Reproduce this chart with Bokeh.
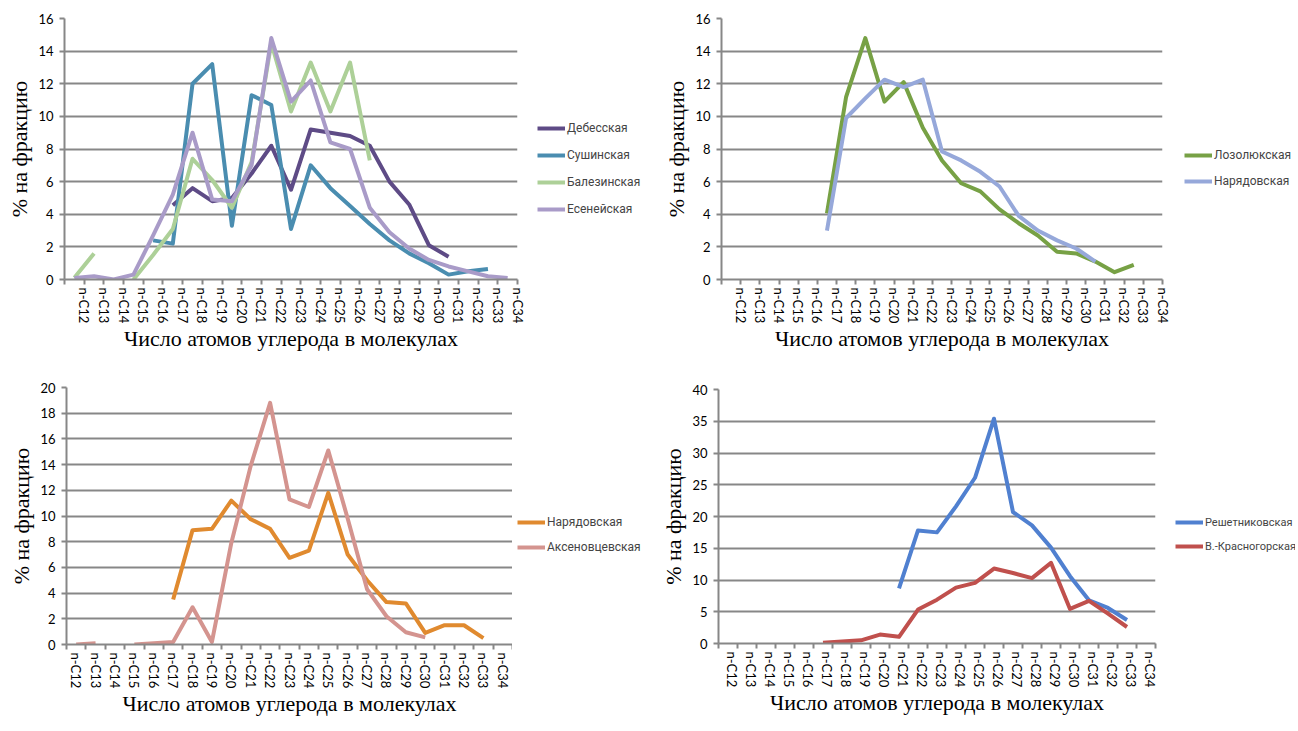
import numpy as np
from bokeh.plotting import figure
from bokeh.layouts import row, column
from bokeh.models import Range1d, FixedTicker, Legend, LegendItem
from bokeh.embed import file_html
from bokeh.resources import INLINE

nan = np.nan

categories = ["n-C12", "n-C13", "n-C14", "n-C15", "n-C16", "n-C17", "n-C18", "n-C19",
              "n-C20", "n-C21", "n-C22", "n-C23", "n-C24", "n-C25", "n-C26", "n-C27",
              "n-C28", "n-C29", "n-C30", "n-C31", "n-C32", "n-C33", "n-C34"]

# Panel 1
debesskaya = [nan, nan, nan, nan, nan, 4.55, 5.6, 4.8, 5.0, 6.5, 8.2, 5.5, 9.2, 9.0, 8.8,
              8.2, 6.0, 4.6, 2.1, 1.4, nan, nan, nan]
sushinskaya = [nan, nan, nan, nan, 2.4, 2.2, 12.0, 13.2, 3.3, 11.3, 10.7, 3.1, 7.0, 5.6, 4.5,
               3.4, 2.4, 1.6, 1.0, 0.3, 0.5, 0.65, nan]
balezinskaya = [0.1, 1.6, nan, 0.0, 1.5, 3.1, 7.4, 6.1, 4.4, 7.2, 14.5, 10.3, 13.3, 10.3, 13.3,
                7.3, nan, nan, nan, nan, nan, nan, nan]
eseneyskaya = [0.1, 0.2, 0.0, 0.3, 2.7, 5.2, 9.0, 4.9, 4.8, 7.0, 14.8, 10.9, 12.2, 8.4, 8.0,
               4.4, 2.9, 1.9, 1.2, 0.8, 0.5, 0.2, 0.1]

# Panel 2
lozolyukskaya = [nan, nan, nan, nan, nan, 4.05, 11.2, 14.8, 10.9, 12.1, 9.3, 7.3, 5.9, 5.4, 4.3,
                 3.45, 2.7, 1.7, 1.6, 1.1, 0.45, 0.9, nan]
naryadovskaya_a = [nan, nan, nan, nan, nan, 3.0, 9.9, 11.1, 12.25, 11.8, 12.25, 7.85, 7.3, 6.6, 5.7,
                   3.9, 3.0, 2.4, 1.9, 1.1, nan, nan, nan]

# Panel 3
naryadovskaya_b = [nan, nan, nan, nan, nan, 3.5, 8.9, 9.0, 11.2, 9.75, 9.0, 6.75, 7.3, 11.8, 7.0,
                   5.0, 3.3, 3.2, 0.9, 1.5, 1.5, 0.5, nan]
aksenovtsevskaya = [0.0, 0.1, nan, 0.0, 0.1, 0.2, 2.9, 0.2, 7.9, 13.9, 18.8, 11.3, 10.7, 15.1, 9.8,
                    4.3, 2.2, 0.95, 0.55, nan, nan, nan, nan]

# Panel 4
reshetnikovskaya = [nan, nan, nan, nan, nan, nan, nan, nan, nan, 8.7, 17.8, 17.5, 21.6, 26.1, 35.4,
                    20.7, 18.6, 15.1, 10.6, 6.8, 5.6, 3.7, nan]
krasnogorskaya = [nan, nan, nan, nan, nan, 0.1, 0.3, 0.5, 1.4, 1.05, 5.35, 6.9, 8.8, 9.55, 11.8,
                  11.1, 10.3, 12.7, 5.45, 6.7, 4.7, 2.6, nan]

X_TITLE = "Число атомов углерода в молекулах"
Y_TITLE = "% на фракцию"
GRID = "#878787"
SANS = "Roboto"
NUM = "Lato"
SERIF = "Liberation Serif"
LINE_W = 4


def make_panel(series, names, colors, ymax, ystep, bl, frame_w, br, legend_width, height,
               bt, bb, label_shift, legend_xy, legend_spacing, title_standoff, legend_font):
    n = len(categories)
    p = figure(width=bl + frame_w + br, height=height, x_range=Range1d(0, n),
               y_range=Range1d(0, ymax), output_backend="svg", toolbar_location=None,
               min_border_left=bl, min_border_right=br, min_border_top=bt, min_border_bottom=bb)
    p.outline_line_color = None
    p.background_fill_color = "white"
    p.border_fill_color = "white"

    xs = np.arange(n) + 0.5
    for vals, col in zip(series, colors):
        p.line(xs, np.array(vals, dtype=float), line_color=col, line_width=LINE_W,
               line_join="round")

    major = [i + label_shift for i in range(n)]
    xt = FixedTicker(ticks=major, minor_ticks=list(range(n + 1)))
    xa = p.xaxis[0]
    xa.ticker = xt
    xa.major_label_overrides = {m: c for m, c in zip(major, categories)}
    xa.major_label_orientation = "vertical"
    xa.major_tick_out = 0
    xa.major_tick_in = 0
    xa.minor_tick_out = 5
    xa.minor_tick_in = 0
    xa.minor_tick_line_color = GRID
    xa.minor_tick_line_width = 2
    xa.major_label_standoff = 3
    xa.major_label_text_font = NUM
    xa.major_label_text_font_size = "13px"
    xa.major_label_text_color = "black"
    xa.axis_line_color = GRID
    xa.axis_line_width = 2
    xa.axis_label = X_TITLE
    xa.axis_label_text_font = SERIF
    xa.axis_label_text_font_size = "22px"
    xa.axis_label_text_font_style = "normal"
    xa.axis_label_text_color = "black"
    xa.axis_label_standoff = title_standoff

    yt = FixedTicker(ticks=list(range(0, ymax + 1, ystep)))
    ya = p.yaxis[0]
    ya.ticker = yt
    ya.major_tick_out = 5
    ya.major_tick_in = 0
    ya.minor_tick_out = 0
    ya.minor_tick_in = 0
    ya.major_tick_line_color = GRID
    ya.major_tick_line_width = 2
    ya.axis_line_color = GRID
    ya.axis_line_width = 2
    ya.major_label_standoff = 6
    ya.major_label_text_font = NUM
    ya.major_label_text_font_size = "13px"
    ya.major_label_text_color = "black"
    ya.axis_label = Y_TITLE
    ya.axis_label_text_font = SERIF
    ya.axis_label_text_font_size = "22px"
    ya.axis_label_text_font_style = "normal"
    ya.axis_label_text_color = "black"
    ya.axis_label_standoff = 3

    p.xgrid.visible = False
    p.ygrid.ticker = yt
    p.ygrid.grid_line_color = GRID
    p.ygrid.grid_line_width = 2

    # legend panel: its own figure, frame aligned with the chart frame
    lg = figure(width=legend_width, height=height, x_range=Range1d(0, 1), y_range=Range1d(0, 1),
                output_backend="svg", toolbar_location=None, x_axis_type=None, y_axis_type=None,
                min_border_left=0, min_border_right=0, min_border_top=bt, min_border_bottom=bb)
    lg.outline_line_color = None
    lg.grid.visible = False
    lg.background_fill_color = "white"
    lg.border_fill_color = "white"
    items = []
    for name, col in zip(names, colors):
        r = lg.line(x=[nan], y=[nan], line_color=col, line_width=LINE_W)
        items.append(LegendItem(label=name, renderers=[r]))
    leg = Legend(items=items, location=legend_xy, margin=0, padding=0,
                 spacing=legend_spacing, glyph_width=28, glyph_height=20,
                 label_standoff=2, label_text_font=SANS, label_text_font_size=legend_font,
                 label_height=20, border_line_alpha=0, background_fill_alpha=0)
    lg.add_layout(leg, "center")
    return row(p, lg)


p1 = make_panel([debesskaya, sushinskaya, balezinskaya, eseneyskaya],
                ["Дебесская", "Сушинская", "Балезинская", "Есенейская"],
                ["#5E4B86", "#4A8DB0", "#ADD098", "#A99BC8"],
                16, 2, 64, 453, 10, 122, 361, 18, 82, 1.0, (10, 60), 7, 0, "12px")
p2 = make_panel([lozolyukskaya, naryadovskaya_a],
                ["Лозолюкская", "Нарядовская"],
                ["#77A145", "#96A8DA"],
                16, 2, 72, 441, 10, 122, 361, 18, 82, 1.0, (12, 88), 6, 0, "12px")
p3 = make_panel([naryadovskaya_b, aksenovtsevskaya],
                ["Нарядовская", "Аксеновцевская"],
                ["#E08A2F", "#D4948F"],
                20, 2, 66, 446, 0, 137, 361, 26, 78, 0.5, (5, 87), 5, 0, "12px")
p4 = make_panel([reshetnikovskaya, krasnogorskaya],
                ["Решетниковская", "В.-Красногорская"],
                ["#5080D0", "#C0504D"],
                40, 5, 69, 437, 10, 130, 361, 28, 79, 0.6875, (10, 87), 4, 0, "11px")

layout = column(row(p1, p2), row(p3, p4))
open("out.html", "w").write(file_html(layout, INLINE))
